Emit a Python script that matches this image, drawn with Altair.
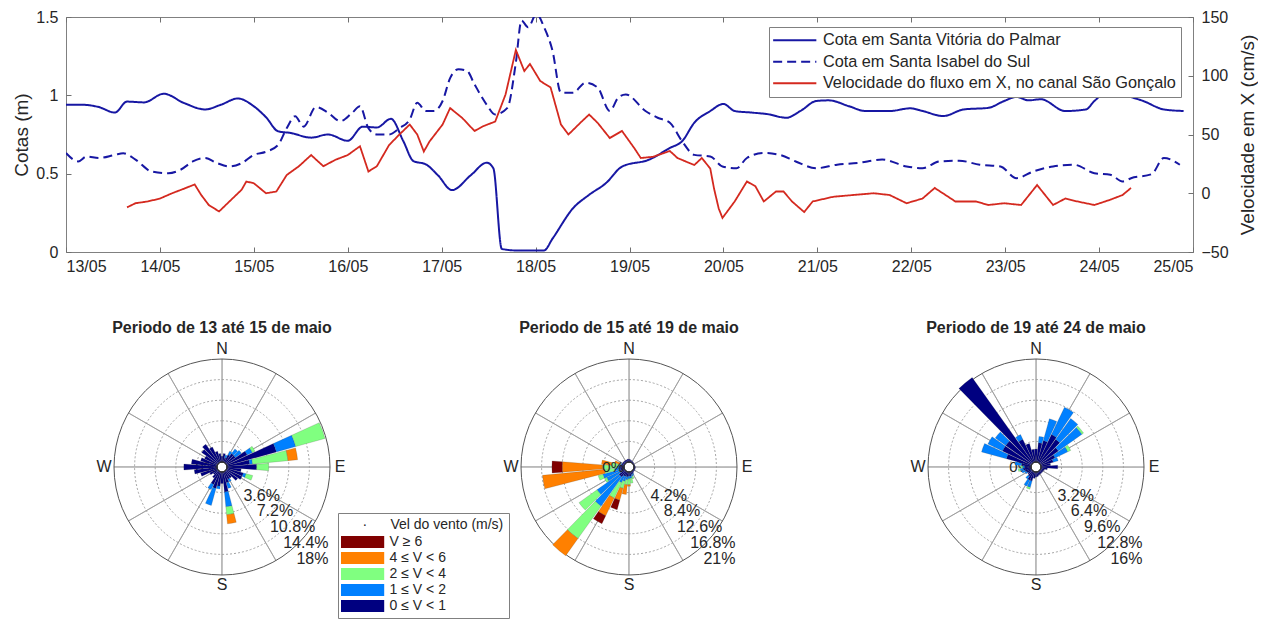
import altair as alt
import numpy as np
import pandas as pd

FONT = "Liberation Sans"
TXT = "#262626"

# ---------------- top panel data ----------------
DATE_LABELS = ["13/05", "14/05", "15/05", "16/05", "17/05", "18/05", "19/05",
               "20/05", "21/05", "22/05", "23/05", "24/05", "25/05"]

SVP_NAME = "Cota em Santa Vitória do Palmar"
SIS_NAME = "Cota em Santa Isabel do Sul"
VEL_NAME = "Velocidade do fluxo em X, no canal São Gonçalo"

# days since 13/05 00:00
svp_day = [0.00, 0.17, 0.35, 0.52, 0.65, 0.83, 1.04, 1.26, 1.48, 1.65, 1.83, 2.00, 2.13, 2.26,
           2.39, 2.61, 2.79, 3.00, 3.16, 3.31, 3.46, 3.59, 3.70, 3.83, 3.96, 4.11, 4.31, 4.48,
           4.55, 4.64, 4.79, 5.09, 5.18, 5.40, 5.57, 5.75, 5.92, 6.21, 6.43, 6.56, 6.69, 6.86,
           7.00, 7.12, 7.30, 7.47, 7.67, 7.82, 7.99, 8.12, 8.34, 8.51, 8.77, 8.99, 9.12, 9.34,
           9.56, 9.82, 9.99, 10.12, 10.25, 10.38, 10.64, 10.86, 10.95, 11.12, 11.30, 11.47,
           11.69, 11.90]
svp_cota = [0.94, 0.94, 0.925, 0.89, 0.96, 0.955, 1.01, 0.95, 0.91, 0.94, 0.98, 0.93, 0.86, 0.77,
            0.76, 0.73, 0.75, 0.71, 0.80, 0.795, 0.85, 0.71, 0.58, 0.56, 0.49, 0.395, 0.49, 0.57,
            0.535, 0.02, 0.01, 0.01, 0.085, 0.28, 0.365, 0.44, 0.545, 0.59, 0.664, 0.707, 0.825,
            0.90, 0.945, 0.90, 0.89, 0.88, 0.857, 0.90, 0.964, 0.968, 0.93, 0.90, 0.90, 0.917,
            0.90, 0.868, 0.91, 0.92, 0.964, 0.99, 0.968, 0.975, 0.90, 0.91, 0.964, 1.03, 0.996,
            0.964, 0.91, 0.90]

sis_day = [0.00, 0.13, 0.22, 0.35, 0.52, 0.61, 0.74, 0.91, 1.09, 1.22, 1.35, 1.48, 1.61, 1.74,
           1.87, 2.00, 2.13, 2.26, 2.35, 2.44, 2.53, 2.66, 2.79, 2.92, 3.05, 3.13, 3.22, 3.31,
           3.44, 3.55, 3.66, 3.74, 3.83, 3.92, 4.01, 4.09, 4.18, 4.27, 4.35, 4.48, 4.57, 4.70,
           4.79, 4.85, 4.92, 5.01, 5.09, 5.18, 5.27, 5.40, 5.53, 5.66, 5.79, 5.88, 5.96, 6.17,
           6.30, 6.43, 6.56, 6.69, 6.86, 6.99, 7.14, 7.25, 7.43, 7.60, 7.77, 7.99, 8.21, 8.43,
           8.69, 8.95, 9.12, 9.30, 9.51, 9.73, 9.95, 10.12, 10.30, 10.51, 10.73, 10.95, 11.12,
           11.25, 11.34, 11.56, 11.69, 11.86]
sis_cota = [0.632, 0.578, 0.61, 0.60, 0.62, 0.63, 0.59, 0.514, 0.503, 0.525, 0.578, 0.60, 0.567,
            0.546, 0.567, 0.62, 0.64, 0.685, 0.79, 0.867, 0.80, 0.925, 0.89, 0.835, 0.89, 0.93,
            0.79, 0.75, 0.75, 0.79, 0.846, 0.953, 0.90, 0.90, 0.964, 1.11, 1.167, 1.156, 1.07,
            0.94, 0.878, 0.92, 1.21, 1.477, 1.435, 1.52, 1.435, 1.285, 1.017, 1.017, 1.08, 1.05,
            0.90, 0.985, 1.006, 0.90, 0.857, 0.825, 0.707, 0.62, 0.61, 0.546, 0.535, 0.60, 0.632,
            0.62, 0.578, 0.535, 0.557, 0.568, 0.59, 0.546, 0.535, 0.578, 0.583, 0.557, 0.546,
            0.471, 0.514, 0.546, 0.557, 0.503, 0.493, 0.45, 0.471, 0.497, 0.60, 0.557]

vel_day = [0.65, 0.74, 0.87, 1.00, 1.13, 1.26, 1.37, 1.44, 1.52, 1.63, 1.74, 1.87, 1.92, 2.00,
           2.13, 2.24, 2.35, 2.48, 2.61, 2.74, 2.87, 3.00, 3.13, 3.22, 3.31, 3.44, 3.55, 3.66,
           3.74, 3.81, 3.87, 4.01, 4.09, 4.22, 4.35, 4.44, 4.57, 4.68, 4.79, 4.88, 4.94, 5.05,
           5.16, 5.27, 5.35, 5.49, 5.57, 5.66, 5.79, 5.92, 6.05, 6.12, 6.25, 6.43, 6.51, 6.69,
           6.77, 6.86, 6.90, 6.95, 6.99, 7.12, 7.25, 7.34, 7.43, 7.56, 7.64, 7.73, 7.86, 7.95,
           8.17, 8.38, 8.60, 8.77, 8.95, 9.12, 9.25, 9.47, 9.69, 9.82, 9.99, 10.17, 10.34, 10.51,
           10.64, 10.77, 10.95, 11.12, 11.25, 11.34]
vel_cms = [-12, -8.5, -7, -4.5, 0, 4, 7.5, -1.5, -10, -15.5, -7, 3, 10, 8.5, 0, 1.5, 15.5, 23,
           32.5, 23, 28.5, 32.5, 40, 18.5, 23, 41, 50, 58.5, 50, 35.5, 44, 58.5, 72.5, 64, 53, 57,
           61, 84, 122, 104, 110, 95.5, 90, 58.5, 50, 61, 67, 60, 47, 53, 38.5, 30, 31, 36, 30, 24,
           30, 21, 4, -13, -21, -7, 10, 6, -7, 1.5, 1.5, -7, -16, -7, -3, -1.5, 0, -1.5, -8.5,
           -4.5, 4.5, -7, -7, -10, -8.5, -10, 7, -10, -4.5, -7, -10, -5.5, -1.5, 4.5]

# ---------------- wind rose data (percent per 10-degree sector) ----------------
DIRS = list(range(0, 360, 10))
CLASS_INNER_TO_OUTER = ["0 ≤ V < 1", "1 ≤ V < 2", "2 ≤ V < 4", "4 ≤ V < 6", "V ≥ 6"]
LEGEND_ORDER = ["V ≥ 6", "4 ≤ V < 6", "2 ≤ V < 4", "1 ≤ V < 2", "0 ≤ V < 1"]
LEGEND_COLORS = ["#800000", "#ff8000", "#80ff80", "#0080ff", "#000080"]

ROSE_TITLES = ["Periodo de 13 até 15 de maio", "Periodo de 15 até 19 de maio",
               "Periodo de 19 até 24 de maio"]
ROSE_MAX = [18, 21, 16]
ZERO_ON_TOP = [False, True, False]

#            0    10   20   30   40   50   60   70   80   90  100  110  120  130  140  150  160  170
#          180  190  200  210  220  230  240  250  260  270  280  290  300  310  320  330  340  350
r1_v01 = [1.0, 1.5, 0.8, 1.5, 2.0, 2.0, 4.0, 9.0, 4.0, 5.2, 2.5, 3.0, 3.0, 2.5, 1.5, 1.5, 2.0, 3.5,
          2.0, 2.5, 3.0, 2.5, 1.5, 1.0, 1.5, 3.0, 4.0, 5.8, 4.5, 3.0, 2.5, 3.5, 4.0, 3.0, 2.0, 1.5]
r1_v12 = [0, 0, 0.5, 0.7, 1.0, 1.3, 1.0, 3.5, 0.5, 0, 0, 0.5, 0, 0, 0, 0.5, 1.0, 2.6,
          0, 0.5, 3.1, 1.0, 0, 0, 0, 0, 0, 0, 0, 0, 0, 0, 0, 0, 0, 0]
r1_v24 = [0, 0, 0, 0, 0, 0, 0.5, 5.3, 6.2, 2.1, 0, 1.2, 0, 0, 0, 0, 0, 1.4,
          0, 0, 0, 0, 0, 0, 0, 0, 0, 0, 0, 0, 0, 0, 0, 0, 0, 0]
r1_v46 = [0, 0, 0, 0, 0, 0, 0, 0, 1.7, 0, 0, 0, 0, 0, 0, 0, 0, 1.6,
          0, 0, 0, 0, 0, 0, 0, 0, 0, 0, 0, 0, 0, 0, 0, 0, 0, 0]
r1_v6 = [0] * 36

r2_v01 = [0.6, 0.5, 0.4, 0.3, 0.3, 0.2, 0.2, 0.2, 0.2, 0.3, 0.3, 0.3, 0.3, 0.3, 0.4, 0.5, 0.6, 0.8,
          0.8, 1.0, 1.0, 1.0, 1.5, 1.5, 1.0, 1.0, 0.8, 0.8, 0.8, 0.6, 0.5, 0.5, 0.5, 0.5, 0.5, 0.6]
r2_v12 = [0, 0, 0, 0, 0, 0, 0, 0, 0, 0, 0, 0, 0, 0, 0, 0.3, 0.4, 0.5,
          0.6, 0.6, 1.0, 1.5, 7.3, 5.5, 3.0, 3.5, 1.2, 0.6, 0.3, 0.2, 0, 0, 0, 0, 0, 0]
r2_v24 = [0, 0, 0, 0, 0, 0, 0, 0, 0, 0, 0, 0, 0, 0, 0, 0, 0.5, 1.0,
          1.2, 1.0, 1.5, 3.5, 8.1, 4.5, 0.5, 1.0, 2.0, 3.0, 1.5, 0, 0, 0, 0, 0, 0, 0]
r2_v46 = [0, 0, 0, 0, 0, 0, 0, 0, 0, 0, 0, 0, 0, 0, 0, 0, 0, 0,
          0.3, 2.0, 2.5, 4.0, 4.3, 0, 0, 0, 12.7, 8.2, 2.0, 1.2, 0, 0, 0, 0, 0, 0]
r2_v6 = [0, 0, 0, 0, 0, 0, 0, 0, 0, 0, 0, 0, 0, 0, 0, 0, 0, 0,
         0, 0, 2.0, 1.8, 0, 0, 0, 0, 0, 2.1, 0, 0, 0, 0, 0, 0, 0, 0]

r3_v01 = [2.0, 3.0, 3.5, 4.8, 4.5, 3.5, 2.5, 2.0, 1.5, 2.6, 1.0, 0.6, 0.5, 0.5, 0.5, 0.5, 0.6, 0.7,
          0.8, 1.0, 1.5, 1.5, 1.0, 0.8, 0.8, 1.0, 1.2, 1.0, 1.5, 4.0, 5.0, 5.0, 16.3, 4.0, 3.0, 2.0]
r3_v12 = [0, 1.0, 3.5, 4.7, 4.0, 4.5, 2.2, 0.8, 0, 0, 0, 0, 0, 0, 0, 0, 0, 0,
          0, 0, 1.0, 1.0, 0.5, 0, 0.3, 0.5, 0.5, 0.3, 1.0, 4.0, 2.5, 2.0, 0, 0.8, 0, 0]
r3_v24 = [0, 0, 0, 0, 0, 0.3, 0.5, 0, 0, 0, 0, 0, 0, 0, 0, 0, 0, 0,
          0, 0, 0.3, 0, 0, 0, 0, 0, 0.3, 0.3, 0, 0, 0, 0, 0, 0, 0, 0]
r3_v46 = [0] * 36
r3_v6 = [0] * 36

ROSE_CLASSES = [
    [r1_v01, r1_v12, r1_v24, r1_v46, r1_v6],
    [r2_v01, r2_v12, r2_v24, r2_v46, r2_v6],
    [r3_v01, r3_v12, r3_v24, r3_v46, r3_v6],
]

# ---------------- top chart ----------------
series_names = [SVP_NAME, SIS_NAME, VEL_NAME]
color_sc = alt.Scale(domain=series_names, range=["#1717a3", "#1717a3", "#d4291f"])
dash_sc = alt.Scale(domain=series_names, range=[[1, 0], [9, 5], [1, 0]])

top_leg = alt.Legend(
    title=None, orient="none", legendX=703, legendY=10,
    symbolType="M-3.6,0H3.6", symbolSize=144, symbolOffset=12.6, symbolStrokeWidth=2,
    labelOffset=20, labelFontSize=16.3, labelColor=TXT, labelFont=FONT, labelLimit=700,
    padding=5, rowPadding=4.5, strokeColor="#808080", fillColor="white",
)

GRID_TICK = "#707070"
label_expr = "[" + ",".join("'" + s + "'" for s in DATE_LABELS) + "][datum.value]"
x_scale = alt.Scale(domain=[0, 12], nice=False, zero=False)
x_enc = alt.X(
    "day:Q", scale=x_scale,
    axis=alt.Axis(values=list(range(13)), labelExpr=label_expr, title=None, grid=False,
                  ticks=False, domain=False, labelPadding=6, labelFontSize=16,
                  labelColor=TXT, labelFont=FONT),
)
x_none = alt.X("day:Q", scale=x_scale, axis=None)


def tick_axis(orient, values):
    return alt.Axis(orient=orient, values=values, labels=False, title=None, grid=False,
                    domain=False, ticks=True, tickSize=5, tickColor=GRID_TICK, tickWidth=1,
                    offset=-5)


left_df = pd.concat([
    pd.DataFrame({"day": svp_day, "val": svp_cota, "serie": SVP_NAME}),
    pd.DataFrame({"day": sis_day, "val": sis_cota, "serie": SIS_NAME}),
])
vel_df = pd.DataFrame({"day": vel_day, "vel": vel_cms, "serie": VEL_NAME})

y_left_scale = alt.Scale(domain=[0, 1.5], nice=False, zero=False)
y_right_scale = alt.Scale(domain=[-50, 150], nice=False, zero=False)

layer_left = alt.Chart(left_df).mark_line(strokeWidth=2, clip=True, interpolate="monotone").encode(
    x=x_enc,
    y=alt.Y("val:Q", scale=y_left_scale,
            axis=alt.Axis(values=[0, 0.5, 1, 1.5], format="~g", title="Cotas (m)", orient="left",
                          grid=False, ticks=False, domain=False, labelPadding=8, titlePadding=4,
                          labelFontSize=16, titleFontSize=19, titleFontWeight="normal",
                          titleColor=TXT, labelColor=TXT, labelFont=FONT, titleFont=FONT)),
    color=alt.Color("serie:N", scale=color_sc, legend=top_leg),
    strokeDash=alt.StrokeDash("serie:N", scale=dash_sc, legend=top_leg),
)

layer_right = alt.Chart(vel_df).mark_line(strokeWidth=1.8, clip=True).encode(
    x=x_none,
    y=alt.Y("vel:Q", scale=y_right_scale,
            axis=alt.Axis(values=[-50, 0, 50, 100, 150], format="d",
                          title="Velocidade em X (cm/s)", orient="right", titleAngle=270,
                          titleBaseline="top", grid=False, ticks=False, domain=False,
                          labelPadding=8, titlePadding=10, labelFontSize=16, titleFontSize=19,
                          titleFontWeight="normal", titleColor=TXT, labelColor=TXT,
                          labelFont=FONT, titleFont=FONT)),
    color=alt.Color("serie:N", scale=color_sc, legend=top_leg),
    strokeDash=alt.StrokeDash("serie:N", scale=dash_sc, legend=top_leg),
)

# inward tick marks (MATLAB style) drawn by tick-only axes
ticks_tl = alt.Chart(left_df).mark_line(strokeOpacity=0).encode(
    x=alt.X("day:Q", scale=x_scale, axis=tick_axis("top", list(range(13)))),
    y=alt.Y("val:Q", scale=y_left_scale, axis=tick_axis("left", [0, 0.5, 1, 1.5])),
)
ticks_br = alt.Chart(vel_df).mark_line(strokeOpacity=0).encode(
    x=alt.X("day:Q", scale=x_scale, axis=tick_axis("bottom", list(range(13)))),
    y=alt.Y("vel:Q", scale=y_right_scale, axis=tick_axis("right", [-50, 0, 50, 100, 150])),
)

top = alt.layer(ticks_tl, ticks_br, layer_left, layer_right).resolve_scale(
    y="independent").resolve_axis(x="independent", y="independent").properties(
    width=1127, height=235, view=alt.ViewBackground(stroke="#808080", strokeWidth=1)
)

# ---------------- wind roses ----------------
HOLE_PX = 5
OUTER_PX = 108
TWO_PI = 2 * np.pi

rose_leg = alt.Legend(
    title="\u200b" + "\u00a0" * 5 + "·" + "\u00a0" * 6 + "Vel do vento (m/s)",
    orient="none", legendX=272, legendY=196, direction="vertical",
    symbolType="M-3.6,-1H3.6V1H-3.6Z", symbolSize=144, symbolOffset=12.6,
    symbolStrokeWidth=0, symbolOpacity=1, labelOffset=20, labelFontSize=14, labelColor=TXT,
    labelFont=FONT, labelLimit=300, titleFontSize=14, titleFontWeight="normal",
    titleColor=TXT, titleFont=FONT, titleLimit=400, padding=5, rowPadding=2, titlePadding=3,
    strokeColor="#808080", fillColor="white",
)
rose_color = alt.Scale(domain=LEGEND_ORDER, range=LEGEND_COLORS)


def bars_frame(classes):
    rows = []
    for i, d in enumerate(DIRS):
        cum = 0.0
        for lab, arr in zip(CLASS_INNER_TO_OUTER, classes):
            v = arr[i]
            if v > 0:
                rows.append({"a0": d - 4.5, "a1": d + 4.5, "v0": cum, "v1": cum + v, "cls": lab})
                cum += v
    return pd.DataFrame(rows)


def rose_chart(k):
    R = ROSE_MAX[k]
    step = R / 5.0
    rs = alt.Scale(type="linear", domain=[0, R], range=[HOLE_PX, OUTER_PX])
    ts = alt.Scale(type="linear", domain=[0, 360], range=[0, TWO_PI])

    def th(f):
        return alt.Theta(f, type="quantitative", scale=ts, stack=False)

    def rad(f):
        return alt.Radius(f, type="quantitative", scale=rs)

    inner_rings = pd.DataFrame({"a0": 0, "a1": 360, "v": [step * i for i in range(1, 5)]})
    outer_ring = pd.DataFrame({"a0": [0], "a1": [360], "v": [R]})
    hole = pd.DataFrame({"a0": [0], "a1": [360], "v": [0]})
    spokes = pd.DataFrame({"a0": list(range(0, 360, 30))})
    spokes["a1"] = spokes["a0"] + 0.05
    spokes["v0"] = 0
    spokes["v1"] = R

    rings_l = alt.Chart(inner_rings).mark_arc(filled=False, stroke="#9a9a9a", strokeWidth=0.9,
                                              strokeDash=[2, 2]).encode(
        theta=th("a0"), theta2="a1", radius=rad("v"))
    outer_l = alt.Chart(outer_ring).mark_arc(filled=False, stroke="#555555",
                                             strokeWidth=1).encode(
        theta=th("a0"), theta2="a1", radius=rad("v"))
    spokes_l = alt.Chart(spokes).mark_arc(filled=False, stroke="#9a9a9a",
                                          strokeWidth=0.8).encode(
        theta=th("a0"), theta2="a1", radius=rad("v1"), radius2="v0")
    bars_l = alt.Chart(bars_frame(ROSE_CLASSES[k])).mark_arc(
        stroke="#333333", strokeWidth=0.3, strokeOpacity=0.6).encode(
        theta=th("a0"), theta2="a1", radius=rad("v1"), radius2="v0",
        color=alt.Color("cls:N", scale=rose_color, legend=rose_leg),
    )
    hole_l = alt.Chart(hole).mark_arc(fill="white", stroke="#333333", strokeWidth=1).encode(
        theta=th("a0"), theta2="a1", radius=rad("v"))

    compass = pd.DataFrame({"a": [0, 90, 180, 270], "txt": ["N", "E", "S", "W"]})
    compass["v"] = R * (118 - HOLE_PX) / (OUTER_PX - HOLE_PX)
    compass_l = alt.Chart(compass).mark_text(fontSize=16, font=FONT, color=TXT).encode(
        theta=th("a"), radius=rad("v"), text="txt:N")

    ring_vals = [round(step * i, 1) for i in range(1, 6)]
    ring_lab = pd.DataFrame({"v": ring_vals, "a": 140,
                             "txt": [f"{v:g}%" for v in ring_vals]})
    ringlab_l = alt.Chart(ring_lab).mark_text(fontSize=16, font=FONT, color=TXT, align="left",
                                              baseline="middle", dx=5, dy=9).encode(
        theta=th("a"), radius=rad("v"), text="txt:N")

    zero_lab = pd.DataFrame({"v": [0], "a": [270], "txt": ["0%"]})
    zero_l = alt.Chart(zero_lab).mark_text(fontSize=15, font=FONT, color=TXT, align="right",
                                           baseline="middle").encode(
        theta=th("a"), radius=rad("v"), text="txt:N")

    title_df = pd.DataFrame({"a": [0], "txt": [ROSE_TITLES[k]]})
    title_df["v"] = R * (139 - HOLE_PX) / (OUTER_PX - HOLE_PX)
    title_l = alt.Chart(title_df).mark_text(fontSize=16, font=FONT, fontWeight="bold",
                                            color=TXT).encode(
        theta=th("a"), radius=rad("v"), text="txt:N")

    if ZERO_ON_TOP[k]:
        layers = [rings_l, spokes_l, outer_l, bars_l, hole_l, zero_l]
    else:
        layers = [rings_l, spokes_l, outer_l, zero_l, bars_l, hole_l]
    layers += [compass_l, ringlab_l, title_l]
    return alt.layer(*layers).properties(width=312, height=300)


roses = alt.hconcat(*[rose_chart(k) for k in range(3)], spacing=95, bounds="flush").resolve_scale(
    theta="independent", radius="independent")

chart = alt.vconcat(top, roses, spacing=65, bounds="flush").resolve_scale(
    color="independent", strokeDash="independent"
).resolve_legend(
    color="independent", strokeDash="independent"
).properties(
    padding={"left": 4, "top": 0, "right": 0, "bottom": 0}
).configure(font=FONT).configure_view(strokeWidth=0)

chart.save("out.html", embed_options={"renderer": "svg", "actions": False})
